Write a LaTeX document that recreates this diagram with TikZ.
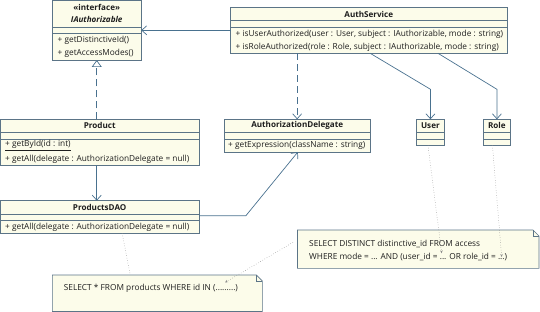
\documentclass[tikz,border=0pt]{standalone}
\usepackage{fontspec}
\setmainfont{Open Sans}
\usetikzlibrary{arrows.meta,calc}
\definecolor{boxline}{HTML}{5B7487}
\definecolor{boxfill}{HTML}{FCFCEA}
\definecolor{conn}{HTML}{49718F}
\definecolor{dotc}{HTML}{8C8C8C}
\definecolor{txt}{HTML}{1E1E1E}
\begin{document}
\begin{tikzpicture}[x=1pt,y=-1pt,
  font=\fontsize{8.3}{10}\selectfont, text=txt,
  umlbox/.style={draw=boxline, fill=boxfill, line width=0.6pt, inner sep=0pt, outer sep=0pt, anchor=north west, rectangle},
  sepline/.style={draw=boxline, line width=0.5pt},
  ttl/.style={anchor=center, font=\fontsize{8.1}{10}\selectfont\bfseries, inner sep=0pt},
  mth/.style={anchor=west, inner sep=0pt},
  notebox/.style={anchor=north west, inner sep=0pt, outer sep=0pt, rectangle},
  assoc/.style={draw=conn, line width=0.7pt, -{Straight Barb[length=5pt,width=9pt]}},
  dep/.style={assoc, dash pattern=on 7pt off 4pt},
  real/.style={draw=conn, line width=0.7pt, dash pattern=on 7pt off 4pt, -{Triangle[length=7pt,width=10pt,fill=white]}},
  anno/.style={draw=dotc, line width=0.5pt, dotted},
  annoarr/.style={anno, -{Stealth[length=3pt,width=2.5pt]}}
]
\useasboundingbox (0,0) rectangle (540,312);

% ---- IAuthorizable
\node[umlbox, minimum width=88.9pt, minimum height=59.5pt] (iface) at (52.3,0.5) {};
\draw[sepline] (iface.west |- 0,27.3) -- (iface.east |- 0,27.3);
\draw[sepline] (iface.west |- 0,33.3) -- (iface.east |- 0,33.3);
\node[ttl] (iface-st) at (96.7,7) {«interface»};
\node[ttl, font=\fontsize{8.1}{10}\selectfont\bfseries\itshape] (iface-t) at (96.7,19.8) {IAuthorizable};
\node[mth] (iface-m1) at (57.5,40.3) {+ getDistinctiveId()};
\node[mth] (iface-m2) at (57.5,53.3) {+ getAccessModes()};

% ---- AuthService
\node[umlbox, minimum width=276.2pt, minimum height=46pt] (auth) at (230.7,7.3) {};
\draw[sepline] (auth.west |- 0,20.7) -- (auth.east |- 0,20.7);
\draw[sepline] (auth.west |- 0,27.3) -- (auth.east |- 0,27.3);
\node[ttl] (auth-t) at (368.8,14) {AuthService};
\node[mth] (auth-m1) at (235.5,34.3) {+ isUserAuthorized(user : User, subject : IAuthorizable, mode : string)};
\node[mth] (auth-m2) at (235.5,47.7) {+ isRoleAuthorized(role : Role, subject : IAuthorizable, mode : string)};

% ---- Product
\node[umlbox, minimum width=198.5pt, minimum height=46pt] (product) at (0.5,119.3) {};
\draw[sepline] (product.west |- 0,132.7) -- (product.east |- 0,132.7);
\draw[sepline] (product.west |- 0,139.3) -- (product.east |- 0,139.3);
\node[ttl] (product-t) at (99.7,125.7) {Product};
\node[mth] (product-m1) at (5,145.7) {\underline{+ getById(id : int)}};
\node[mth] (product-m2) at (5,159) {+ getAll(delegate : AuthorizationDelegate = null)};

% ---- ProductsDAO
\node[umlbox, minimum width=198.5pt, minimum height=32.6pt] (dao) at (0.5,200.7) {};
\draw[sepline] (dao.west |- 0,214) -- (dao.east |- 0,214);
\draw[sepline] (dao.west |- 0,220.7) -- (dao.east |- 0,220.7);
\node[ttl] (dao-t) at (99.7,207.3) {ProductsDAO};
\node[mth] (dao-m1) at (5,227.3) {+ getAll(delegate : AuthorizationDelegate = null)};

% ---- AuthorizationDelegate
\node[umlbox, minimum width=146.7pt, minimum height=32.7pt] (deleg) at (223.8,119.3) {};
\draw[sepline] (deleg.west |- 0,132.7) -- (deleg.east |- 0,132.7);
\draw[sepline] (deleg.west |- 0,139.3) -- (deleg.east |- 0,139.3);
\node[ttl] (deleg-t) at (297.2,125.7) {AuthorizationDelegate};
\node[mth] (deleg-m1) at (228,145.7) {+ getExpression(className : string)};

% ---- User
\node[umlbox, minimum width=27.5pt, minimum height=26pt] (user) at (416.7,119.3) {};
\draw[sepline] (user.west |- 0,132.7) -- (user.east |- 0,132.7);
\draw[sepline] (user.west |- 0,139.3) -- (user.east |- 0,139.3);
\node[ttl] (user-t) at (430.4,125.7) {User};

% ---- Role
\node[umlbox, minimum width=26.8pt, minimum height=26pt] (role) at (483.5,119.3) {};
\draw[sepline] (role.west |- 0,132.7) -- (role.east |- 0,132.7);
\draw[sepline] (role.west |- 0,139.3) -- (role.east |- 0,139.3);
\node[ttl] (role-t) at (496.9,125.7) {Role};

% ---- Notes
\node[notebox, minimum width=241.5pt, minimum height=38.3pt] (note1) at (297.5,230) {};
\draw[draw=boxline, fill=boxfill, line width=0.6pt]
  (note1.north west) -- ($(note1.north east)+(-6,0)$) -- ($(note1.north east)+(0,6)$)
  -- (note1.south east) -- (note1.south west) -- cycle;
\draw[draw=boxline, line width=0.5pt] ($(note1.north east)+(-6,0)$) -- ($(note1.north east)+(-6,6)$) -- ($(note1.north east)+(0,6)$);
\node[mth] (note1-l1) at (309,243.7) {SELECT DISTINCT distinctive\_id FROM access};
\node[mth] (note1-l2) at (309,257) {WHERE mode = ... AND (user\_id = ... OR role\_id = ...)};

\node[notebox, minimum width=210.1pt, minimum height=36.5pt] (note2) at (52.3,275) {};
\draw[draw=boxline, fill=boxfill, line width=0.6pt]
  (note2.north west) -- ($(note2.north east)+(-6,0)$) -- ($(note2.north east)+(0,6)$)
  -- (note2.south east) -- (note2.south west) -- cycle;
\draw[draw=boxline, line width=0.5pt] ($(note2.north east)+(-6,0)$) -- ($(note2.north east)+(-6,6)$) -- ($(note2.north east)+(0,6)$);
\node[mth] (note2-l1) at (63.7,288.3) {SELECT * FROM products WHERE id IN (.........)};

% ---- Connectors
\draw[assoc] (auth.west) -- (iface.east |- auth.west);
\draw[real] (iface.south |- product.north) -- (iface.south);
\draw[assoc] (iface.south |- product.south) -- (iface.south |- dao.north);
\draw[dep] (deleg.north |- auth.south) -- (deleg.north);

\coordinate (daoA) at (dao.east |- 0,215.7);
\coordinate (daoB) at (245.9,215.7);
\draw[assoc] (daoA) -- (daoB) -- ([xshift=0.7pt]deleg.south);

\coordinate (uA) at (370.2,53.3);
\coordinate (uB) at (user.north |- 0,89.3);
\draw[assoc] (uA) -- (uB) -- (user.north);
\coordinate (rA) at (438,53.3);
\coordinate (rB) at (role.north |- 0,89.3);
\draw[assoc] (rA) -- (rB) -- (role.north);

% ---- annotation links
\coordinate (d1) at (122.2,233.3);
\coordinate (d2) at (130.2,275);
\draw[anno] (d1) -- (d2);
\coordinate (u1) at (428,145.3);
\coordinate (u2) at (441.7,253.3);
\draw[annoarr] (u1) -- (u2);
\coordinate (r1) at (492.4,145.3);
\coordinate (r2) at (501.7,257);
\draw[annoarr] (r1) -- (r2);
\coordinate (n1) at (293,242.3);
\coordinate (n2) at (225,282.5);
\draw[annoarr] (n1) -- (n2);
\end{tikzpicture}
\end{document}
